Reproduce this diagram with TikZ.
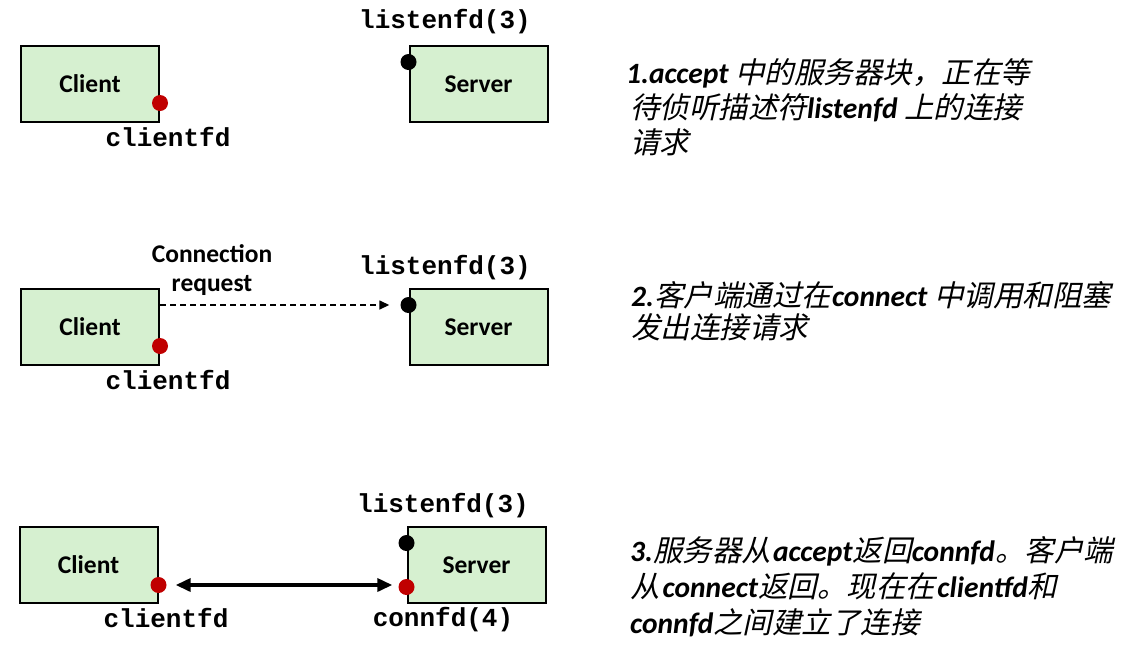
\documentclass[tikz,border=0pt]{standalone}
\usepackage{fontspec}
\setmainfont{Carlito}
\newfontfamily\monofont{Liberation Mono}
\newfontfamily\cjk[FakeSlant=0.22]{Noto Sans CJK SC}
\usetikzlibrary{arrows.meta}
\definecolor{boxgreen}{RGB}{214,240,208}
\definecolor{fdred}{RGB}{192,0,0}
\begin{document}
\begin{tikzpicture}[x=1pt,y=-1pt,
  hostbox/.style={draw=black, line width=2pt, fill=boxgreen, minimum width=138pt, minimum height=76pt, inner sep=0pt, font=\fontsize{25.5}{28}\selectfont\bfseries},
  reddot/.style={circle, fill=fdred, minimum size=16pt, inner sep=0pt},
  blackdot/.style={circle, fill=black, minimum size=16pt, inner sep=0pt},
  fdlabel/.style={inner sep=0pt, font=\fontsize{26}{28}\monofont\bfseries},
  reqlabel/.style={inner sep=0pt, font=\fontsize{25.5}{28}\selectfont\bfseries},
  desc/.style={anchor=base west, inner sep=0pt, text height=23pt, text depth=6pt, font=\fontsize{29.5}{35}\selectfont},
]
\useasboundingbox (0,0) rectangle (1123,670);

% ---------- Panel 1 ----------
\node[hostbox] (c1) at (90,84) {Client};
\node[hostbox] (s1) at (478.5,84) {Server};
\node[reddot] (rc1) at (c1.east |- 0,103) {};
\node[blackdot] (ls1) at (s1.west |- 0,62) {};
\node[fdlabel] (lab1a) at (445,22) {listenfd(3)};
\node[fdlabel] (lab1b) at (168,137) {clientfd};
\node[desc] (t1a) at (626,83) {\textbf{\textit{1.accept}} {\cjk 中的服务器块，正在等}};
\node[desc] (t1b) at (630,118) {{\cjk 待侦听描述符}\textbf{\textit{listenfd}} {\cjk 上的连接}};
\node[desc] (t1c) at (630,153) {{\cjk 请求}};

% ---------- Panel 2 ----------
\node[hostbox] (c2) at (90,327) {Client};
\node[hostbox] (s2) at (478.5,327) {Server};
\node[reddot] (rc2) at (c2.east |- 0,346) {};
\node[blackdot] (ls2) at (s2.west |- 0,305) {};
\node[fdlabel] (lab2a) at (445,268) {listenfd(3)};
\node[fdlabel] (lab2b) at (168,380) {clientfd};
\node[reqlabel] (req1) at (212,254) {Connection};
\node[reqlabel] (req2) at (212,285) {request};
\draw[line width=1.5pt, dash pattern=on 6pt off 4pt, -{Triangle[length=10pt,width=9pt]}, shorten >=11pt]
  (c2.east |- ls2) -- (ls2.west);
\node[desc] (t2a) at (631,306) {\textbf{\textit{2.}}{\cjk 客户端通过在}\hspace{1pt}\textbf{\textit{connect}} {\cjk 中调用和阻塞}};
\node[desc] (t2b) at (631,338) {{\cjk 发出连接请求}};

% ---------- Panel 3 ----------
\node[hostbox] (c3) at (88.5,565) {Client};
\node[hostbox] (s3) at (476.5,565) {Server};
\node[reddot] (rc3) at (c3.east |- 0,585) {};
\node[blackdot] (ls3) at (s3.west |- 0,543) {};
\node[reddot] (rs3) at (s3.west |- 0,587) {};
\node[fdlabel] (lab3a) at (443,506) {listenfd(3)};
\node[fdlabel] (lab3b) at (166,618) {clientfd};
\node[fdlabel] (lab3c) at (443,620) {connfd(4)};
\draw[line width=3.5pt, {Triangle[length=15pt,width=13pt]}-{Triangle[length=15pt,width=13pt]}, shorten <=9pt, shorten >=6pt]
  (rc3.east) -- (rc3.east -| rs3.west);
\node[desc] (t3a) at (630,561) {\textbf{\textit{3.}}{\cjk 服务器从}\hspace{2pt}\textbf{\textit{accept}}{\cjk 返回}\textbf{\textit{connfd}}{\cjk 。客户端}};
\node[desc] (t3b) at (630,597) {{\cjk 从}\hspace{3pt}\textbf{\textit{connect}}{\cjk 返回。现在在}\hspace{2pt}\textbf{\textit{clientfd}}{\cjk 和}};
\node[desc] (t3c) at (630,633) {\textbf{\textit{connfd}}{\cjk 之间建立了连接}};
\end{tikzpicture}
\end{document}
